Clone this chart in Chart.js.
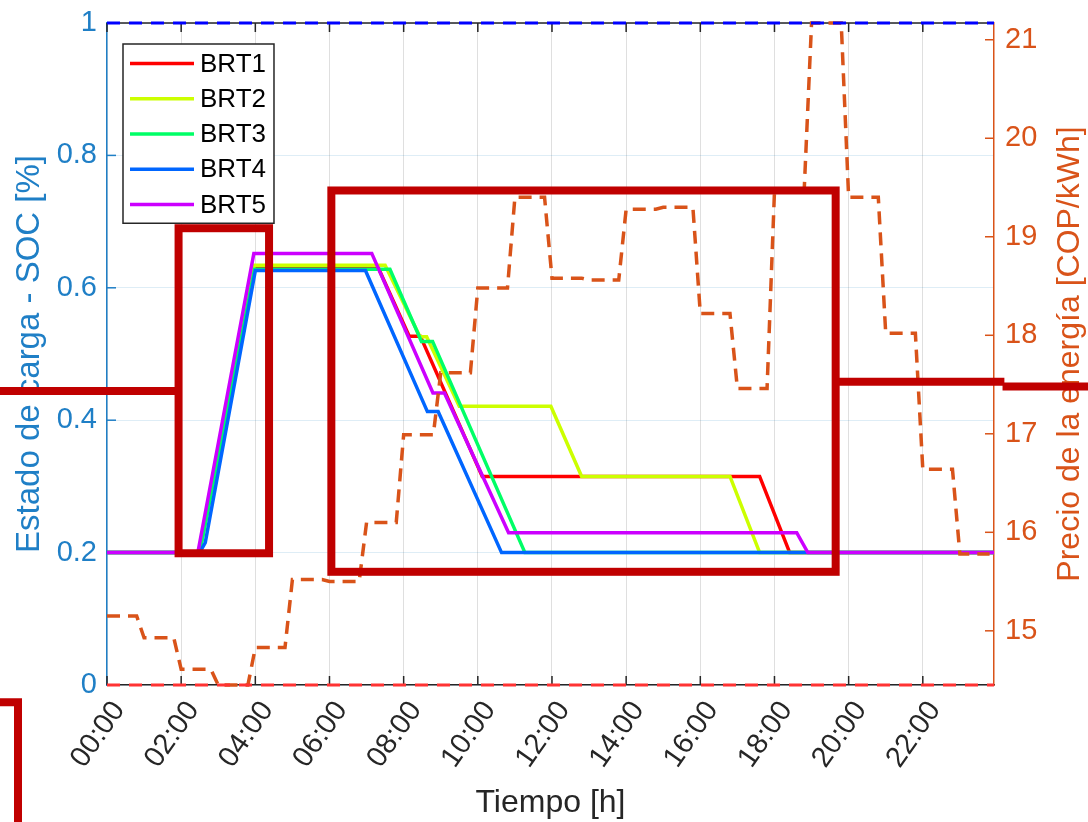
<!DOCTYPE html>
<html lang="es">
<head>
<meta charset="UTF-8" />
<title>Estado de carga BRT y precio de la energía</title>
<script src="https://cdn.jsdelivr.net/npm/chart.js"></script>
<style>
  html, body { margin: 0; padding: 0; background: #ffffff; }
  #wrap { width: 1088px; height: 822px; }
</style>
</head>
<body>
<div id="wrap"><canvas id="socChart" width="1088" height="822"></canvas></div>
<script>
// ---- datos ----
const horaFin = 23.92;
const xTicks = [0, 2, 4, 6, 8, 10, 12, 14, 16, 18, 20, 22];
const socTicks = [0, 0.2, 0.4, 0.6, 0.8, 1];
const precioTicks = [15, 16, 17, 18, 19, 20, 21];

const brt1Hora = [0, 2.49, 3.97, 7.3, 8.15, 8.45, 10.12, 17.6, 18.41, horaFin];
const brt1Soc  = [0.2, 0.2, 0.632, 0.632, 0.527, 0.527, 0.315, 0.315, 0.2, 0.2];

const brt2Hora = [0, 2.48, 3.97, 7.5, 8.44, 8.62, 9.5, 11.97, 12.8, 16.8, 17.6, horaFin];
const brt2Soc  = [0.2, 0.2, 0.634, 0.634, 0.526, 0.526, 0.421, 0.421, 0.315, 0.315, 0.2, 0.2];

const brt3Hora = [0, 2.5, 3.98, 7.63, 8.48, 8.78, 11.27, horaFin];
const brt3Soc  = [0.2, 0.2, 0.628, 0.628, 0.519, 0.519, 0.2, 0.2];

const brt4Hora = [0, 2.5, 2.65, 4.0, 6.97, 8.64, 8.93, 10.64, horaFin];
const brt4Soc  = [0.2, 0.2, 0.215, 0.626, 0.626, 0.413, 0.413, 0.2, 0.2];

const brt5Hora = [0, 2.45, 3.96, 7.14, 8.79, 9.1, 10.83, 18.6, 18.9, horaFin];
const brt5Soc  = [0.2, 0.2, 0.652, 0.652, 0.441, 0.441, 0.23, 0.23, 0.2, 0.2];

// precio horario [COP/kWh], 00:00 ... 23:00
const precioHora = [15.15, 14.93, 14.61, 14.45, 14.83, 15.52, 15.50, 16.10,
                    16.99, 17.62, 18.48, 19.40, 18.58, 18.56, 19.28, 19.30,
                    18.22, 17.46, 19.46, 21.17, 19.40, 18.02, 16.64, 15.78];

const socMax = 1;
const socMin = 0;

// ---- estilos ----
const FUENTE = '"Liberation Sans", Arial, Helvetica, sans-serif';
const AZUL_EJE = '#1f7fc6';
const NARANJA = '#D95319';
const GRIS = '#262626';
const coloresBrt = ['#FF0000', '#CCFF00', '#00FF66', '#0066FF', '#CC00FF'];

function puntos(horas, valores) {
  return horas.map((h, i) => ({ x: h, y: valores[i] }));
}

// cada hora se mantiene y cambia en el ultimo tramo hacia la siguiente
const puntosPrecio = [];
precioHora.forEach((v, h) => {
  puntosPrecio.push({ x: h, y: v });
  puntosPrecio.push({ x: Math.min(h + 0.8, horaFin), y: v });
});

const series = [
  { label: 'BRT1', horas: brt1Hora, soc: brt1Soc },
  { label: 'BRT2', horas: brt2Hora, soc: brt2Soc },
  { label: 'BRT3', horas: brt3Hora, soc: brt3Soc },
  { label: 'BRT4', horas: brt4Hora, soc: brt4Soc },
  { label: 'BRT5', horas: brt5Hora, soc: brt5Soc }
];

const datasets = series.map((s, i) => ({
  label: s.label,
  data: puntos(s.horas, s.soc),
  borderColor: coloresBrt[i],
  borderWidth: 3.5,
  pointRadius: 0,
  clip: false,
  yAxisID: 'ySoc',
  order: 6 - i,
  enLeyenda: true
}));

datasets.push({
  label: 'Precio',
  data: puntosPrecio,
  borderColor: NARANJA,
  borderWidth: 3.5,
  borderDash: [13, 8],
  pointRadius: 0,
  clip: false,
  yAxisID: 'yPrecio',
  order: 1
});
datasets.push({
  label: 'SOC max',
  data: [{ x: 0, y: socMax }, { x: horaFin, y: socMax }],
  borderColor: '#0000FF',
  borderWidth: 3,
  borderDash: [13, 9],
  pointRadius: 0,
  clip: false,
  yAxisID: 'ySoc',
  order: 0
});
datasets.push({
  label: 'SOC min',
  data: [{ x: 0, y: socMin }, { x: horaFin, y: socMin }],
  borderColor: '#FF3333',
  borderWidth: 3,
  borderDash: [13, 9],
  pointRadius: 0,
  clip: false,
  yAxisID: 'ySoc',
  order: 0
});

// recuadros rojos de resaltado (en unidades de hora / SOC)
const resaltados = {
  cuadros: [
    { x1: 1.93, x2: 4.37, y1: 0.199, y2: 0.690 },
    { x1: 6.05, x2: 19.65, y1: 0.171, y2: 0.747 }
  ],
  brazos: [
    { desde: 'izq', hasta: 1.93, y: 0.444 },
    { desde: 19.65, hasta: 24.2, y: 0.458 },
    { desde: 24.15, hasta: 'der', y: 0.451 }
  ],
  esquina: { x: -2.40, y: -0.026 }
};

const decoracion = {
  id: 'decoracion',
  beforeDatasetsDraw(chart) {
    const { ctx, chartArea: a, scales } = chart;
    ctx.save();
    // borde superior
    ctx.strokeStyle = GRIS;
    ctx.lineWidth = 1.5;
    ctx.beginPath();
    ctx.moveTo(a.left, a.top);
    ctx.lineTo(a.right, a.top);
    ctx.stroke();
    // marcas hacia dentro
    const L = 9;
    scales.x.ticks.forEach(t => {
      const px = scales.x.getPixelForValue(t.value);
      ctx.beginPath();
      ctx.moveTo(px, a.bottom); ctx.lineTo(px, a.bottom - L);
      ctx.moveTo(px, a.top); ctx.lineTo(px, a.top + L);
      ctx.stroke();
    });
    ctx.strokeStyle = AZUL_EJE;
    scales.ySoc.ticks.forEach(t => {
      const py = scales.ySoc.getPixelForValue(t.value);
      ctx.beginPath();
      ctx.moveTo(a.left, py); ctx.lineTo(a.left + L, py);
      ctx.stroke();
    });
    ctx.strokeStyle = NARANJA;
    scales.yPrecio.ticks.forEach(t => {
      const py = scales.yPrecio.getPixelForValue(t.value);
      ctx.beginPath();
      ctx.moveTo(a.right, py); ctx.lineTo(a.right - L, py);
      ctx.stroke();
    });
    // etiquetas del eje x, giradas
    ctx.fillStyle = GRIS;
    ctx.font = '29px ' + FUENTE;
    ctx.textAlign = 'right';
    ctx.textBaseline = 'middle';
    scales.x.ticks.forEach(t => {
      const px = scales.x.getPixelForValue(t.value);
      ctx.save();
      ctx.translate(px + 12, a.bottom + 20);
      ctx.rotate(-55 * Math.PI / 180);
      ctx.fillText(String(t.value).padStart(2, '0') + ':00', 0, 0);
      ctx.restore();
    });
    ctx.restore();
  },
  afterDatasetsDraw(chart) {
    // leyenda dentro del area
    const { ctx, chartArea: a } = chart;
    const items = chart.data.datasets.filter(d => d.enLeyenda);
    ctx.save();
    ctx.font = '26px ' + FUENTE;
    const textW = Math.max(...items.map(d => ctx.measureText(d.label).width));
    const x0 = a.left + 16, y0 = a.top + 21;
    const fila = 35.25;
    const w = 7 + 64 + 6 + textW + 8;
    const h = items.length * fila + 3;
    ctx.fillStyle = '#ffffff';
    ctx.fillRect(x0, y0, w, h);
    ctx.strokeStyle = GRIS;
    ctx.lineWidth = 1.5;
    ctx.strokeRect(x0, y0, w, h);
    items.forEach((d, i) => {
      const cy = y0 + 19.5 + i * fila;
      ctx.strokeStyle = d.borderColor;
      ctx.lineWidth = 3.5;
      ctx.beginPath();
      ctx.moveTo(x0 + 7, cy);
      ctx.lineTo(x0 + 71, cy);
      ctx.stroke();
      ctx.fillStyle = '#000000';
      ctx.textBaseline = 'middle';
      ctx.fillText(d.label, x0 + 77, cy + 1);
    });
    ctx.restore();
  },
  afterDraw(chart) {
    const { ctx, chartArea: a, scales, width, height } = chart;
    const xs = scales.x, ys = scales.ySoc;
    ctx.save();
    // titulo del eje derecho (de abajo hacia arriba)
    ctx.fillStyle = NARANJA;
    ctx.font = '32px ' + FUENTE;
    ctx.textAlign = 'center';
    ctx.textBaseline = 'middle';
    ctx.translate(1070, (a.top + a.bottom) / 2);
    ctx.rotate(-Math.PI / 2);
    ctx.fillText('Precio de la energía [COP/kWh]', 0, 0);
    ctx.restore();

    ctx.save();
    ctx.strokeStyle = '#C00000';
    ctx.lineWidth = 8;
    ctx.lineJoin = 'miter';
    resaltados.cuadros.forEach(c => {
      const l = xs.getPixelForValue(c.x1), r = xs.getPixelForValue(c.x2);
      const t = ys.getPixelForValue(c.y2), b = ys.getPixelForValue(c.y1);
      ctx.strokeRect(l, t, r - l, b - t);
    });
    resaltados.brazos.forEach(br => {
      const xa = br.desde === 'izq' ? 0 : xs.getPixelForValue(br.desde);
      const xb = br.hasta === 'der' ? width : xs.getPixelForValue(br.hasta);
      const py = ys.getPixelForValue(br.y);
      ctx.beginPath();
      ctx.moveTo(xa, py);
      ctx.lineTo(xb, py);
      ctx.stroke();
    });
    const ex = xs.getPixelForValue(resaltados.esquina.x);
    const ey = ys.getPixelForValue(resaltados.esquina.y);
    ctx.beginPath();
    ctx.moveTo(0, ey);
    ctx.lineTo(ex, ey);
    ctx.lineTo(ex, height);
    ctx.stroke();
    ctx.restore();
  }
};

// el area de la grafica no debe reservar espacio extra por las etiquetas
function sinRelleno(s) {
  s.paddingTop = 0;
  s.paddingBottom = 0;
}

new Chart(document.getElementById('socChart'), {
  type: 'line',
  data: { datasets },
  options: {
    responsive: false,
    animation: false,
    events: [],
    layout: { padding: { top: 23, left: 0, right: 0, bottom: 0 } },
    plugins: {
      legend: { display: false },
      tooltip: { enabled: false }
    },
    scales: {
      x: {
        type: 'linear',
        min: 0,
        max: horaFin,
        afterBuildTicks: s => { s.ticks = xTicks.map(v => ({ value: v })); },
        afterFit: s => { s.height = 137; s.paddingLeft = 0; s.paddingRight = 0; },
        ticks: { display: false },
        grid: { color: 'rgba(38,38,38,0.15)', lineWidth: 1, drawTicks: false },
        border: { color: GRIS, width: 1.5 },
        title: {
          display: true,
          text: 'Tiempo [h]',
          color: GRIS,
          font: { family: FUENTE, size: 32 },
          padding: { top: 0, bottom: 0 }
        }
      },
      ySoc: {
        type: 'linear',
        position: 'left',
        min: 0,
        max: 1,
        afterBuildTicks: s => { s.ticks = socTicks.map(v => ({ value: v })); },
        afterFit: s => { s.width = 107; sinRelleno(s); },
        ticks: {
          padding: 10,
          color: AZUL_EJE,
          font: { family: FUENTE, size: 29 },
          callback: v => (v === 0 || v === 1) ? String(v) : v.toFixed(1)
        },
        grid: { color: 'rgba(0,114,189,0.13)', lineWidth: 1, drawTicks: false },
        border: { color: AZUL_EJE, width: 1.5 },
        title: {
          display: true,
          text: 'Estado de carga - SOC [%]',
          color: AZUL_EJE,
          font: { family: FUENTE, size: 33 },
          padding: { top: 10, bottom: 0 }
        }
      },
      yPrecio: {
        type: 'linear',
        position: 'right',
        min: 14.45,
        max: 21.17,
        afterBuildTicks: s => { s.ticks = precioTicks.map(v => ({ value: v })); },
        afterFit: s => { s.width = 94; sinRelleno(s); },
        ticks: {
          padding: 11,
          color: NARANJA,
          font: { family: FUENTE, size: 29 }
        },
        grid: { drawOnChartArea: false, drawTicks: false },
        border: { color: NARANJA, width: 1.5 }
      }
    }
  },
  plugins: [decoracion]
});
</script>
</body>
</html>
